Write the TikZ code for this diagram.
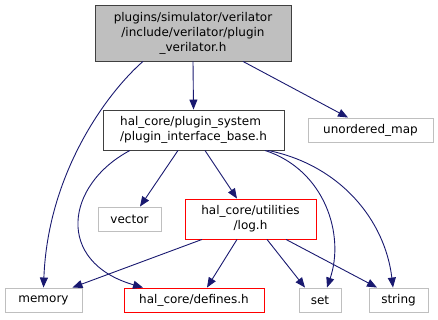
\documentclass[tikz,border=0pt]{standalone}
\usepackage{fontspec}
\setmainfont{DejaVu Sans}
\usetikzlibrary{arrows.meta}
\definecolor{EdgeBlue}{RGB}{25,25,112}
\definecolor{BoxGray}{RGB}{191,191,191}
\definecolor{BoxDark}{RGB}{64,64,64}
\tikzset{
    filebox/.style={rectangle,draw=BoxGray,fill=white,line width=0.9pt,inner sep=0pt,minimum height=24pt,font=\fontsize{12}{15}\selectfont},
    rootbox/.style={filebox,draw=BoxDark,fill=BoxGray},
    localbox/.style={filebox,draw=BoxDark},
    redbox/.style={filebox,draw=red},
    incl/.style={line width=0.9pt,EdgeBlue,-{Triangle[length=10pt,width=8pt]}}
}

\begin{document}
\begin{tikzpicture}[x=1pt,y=-1pt]
\useasboundingbox (0,0) rectangle (438,320);

				% files
				\node[rootbox,minimum width=196pt,minimum height=56pt,align=center] (root) at (193,33) {plugins/simulator/verilator\\/include/verilator/plugin\\\_verilator.h};
				\node[localbox,minimum width=181pt,minimum height=40pt,align=left] (pib) at (193.5,130) {hal\_core/plugin\_system\\/plugin\_interface\_base.h};
				\node[filebox,minimum width=125pt] (umap) at (370.5,130) {unordered\_map};
				\node[filebox,minimum width=63pt] (vector) at (129.5,219) {vector};
				\node[redbox,minimum width=131pt,minimum height=40pt,align=center] (log) at (250.5,219) {hal\_core/utilities\\/log.h};
				\node[filebox,minimum width=77pt] (memory) at (43.5,300) {memory};
				\node[redbox,minimum width=140pt] (defines) at (194,300) {hal\_core/defines.h};
				\node[filebox,minimum width=42pt] (set) at (320,300) {set};
				\node[filebox,minimum width=59pt] (string) at (398.5,300) {string};
				
				% includes of the root file
				\draw[incl] ([xshift=-50pt]root.south) .. controls (110,90) and (48,170) .. (memory.north);
				\draw[incl] (root.south) -- (pib.north);
				\draw[incl] ([xshift=50pt]root.south) -- ([xshift=-22.5pt]umap.north);
				
				% includes of plugin_interface_base.h
				\draw[incl] ([xshift=-63.5pt]pib.south) .. controls (65,185) and (55,262) .. ([xshift=-51pt]defines.north);
				\draw[incl] ([xshift=-15.5pt]pib.south) -- ([xshift=10.5pt]vector.north);
				\draw[incl] ([xshift=11.5pt]pib.south) -- ([xshift=-13.5pt]log.north);
				\draw[incl] ([xshift=71.5pt]pib.south) .. controls (325,170) and (345,235) .. ([xshift=7pt]set.north);
				\draw[incl] ([xshift=74.5pt]pib.south) .. controls (340,165) and (385,220) .. ([xshift=-5.5pt]string.north);
				
				% includes of log.h
				\draw[incl] ([xshift=-48.5pt]log.south) -- ([xshift=-10pt]memory.north east);
				\draw[incl] ([xshift=-13.5pt]log.south) -- ([xshift=13pt]defines.north);
				\draw[incl] ([xshift=16.5pt]log.south) -- ([xshift=-15pt]set.north);
				\draw[incl] ([xshift=35.5pt]log.south) -- ([xshift=-21.5pt]string.north);
\end{tikzpicture}
\end{document}
